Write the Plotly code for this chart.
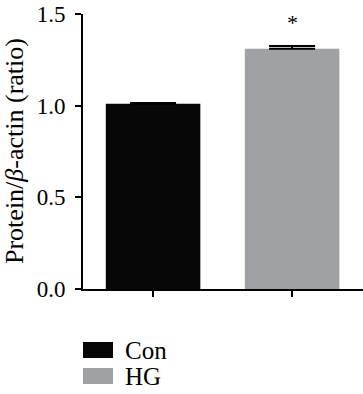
import plotly.graph_objects as go

categories = ["Con", "HG"]
values = [1.01, 1.31]
errors = [0.005, 0.015]
colors = ["#070707", "#a0a1a5"]
y_ticks = [0.0, 0.5, 1.0, 1.5]
y_tick_labels = ["0.0", "0.5", "1.0", "1.5"]
significance = ["", "*"]
y_title = "Protein/<i>β</i>-actin (ratio)"

FONT = "Liberation Serif"

fig = go.Figure()
fig.add_trace(go.Bar(
    x=categories, y=values,
    marker=dict(color=colors, line=dict(width=0)),
    width=0.68,
    error_y=dict(type="data", array=errors, arrayminus=[0, 0], symmetric=False,
                 color="black", thickness=2, width=23),
    showlegend=False,
))

for c, v, e, s in zip(categories, values, errors, significance):
    if s:
        fig.add_annotation(x=c, y=v + e, text=s, showarrow=False, yshift=24,
                           font=dict(family=FONT, size=22, color="black"))

# layout helpers (pixel -> paper)
L, T, H = 83, 14, 275
W = 280
def px(x):
    return (x - L) / W
def py(y):
    return (T + H - y) / H

# y-axis title as rotated annotation
fig.add_annotation(xref="paper", yref="paper", x=px(14), y=py(151),
                   text=y_title, textangle=-90, showarrow=False,
                   xanchor="center", yanchor="middle",
                   font=dict(family=FONT, size=26, color="black"))

# manual legend
for i, (c, col) in enumerate(zip(categories, colors)):
    y0 = 342 + i * 26
    fig.add_shape(type="rect", xref="paper", yref="paper",
                  x0=px(83), x1=px(113), y0=py(y0), y1=py(y0 + 16),
                  fillcolor=col, line=dict(width=0))
    fig.add_annotation(xref="paper", yref="paper", x=px(123), y=py(y0 + 8),
                       text=c, showarrow=False, xanchor="left", yanchor="middle",
                       font=dict(family=FONT, size=25, color="black"))

fig.update_layout(
    width=363, height=394,
    margin=dict(l=L, r=0, t=T, b=394 - T - H, pad=0),
    plot_bgcolor="white", paper_bgcolor="white",
    font=dict(family=FONT, size=23, color="black"),
)
fig.update_xaxes(range=[-0.504, 1.51], showline=True, linecolor="black", linewidth=2,
                 ticks="outside", ticklen=6, tickwidth=2, tickcolor="black",
                 showticklabels=False, showgrid=False, zeroline=False)
fig.update_yaxes(range=[0, 1.5], tickvals=y_ticks, ticktext=y_tick_labels,
                 showline=True, linecolor="black", linewidth=2,
                 ticks="outside", ticklen=6, tickwidth=2, tickcolor="black",
                 showgrid=False, zeroline=False, ticklabelstandoff=5,
                 tickfont=dict(family=FONT, size=23))

fig.write_html("out.html", config={"displayModeBar": False},
               post_script="document.body.style.margin='0';document.body.style.overflow='hidden';")
